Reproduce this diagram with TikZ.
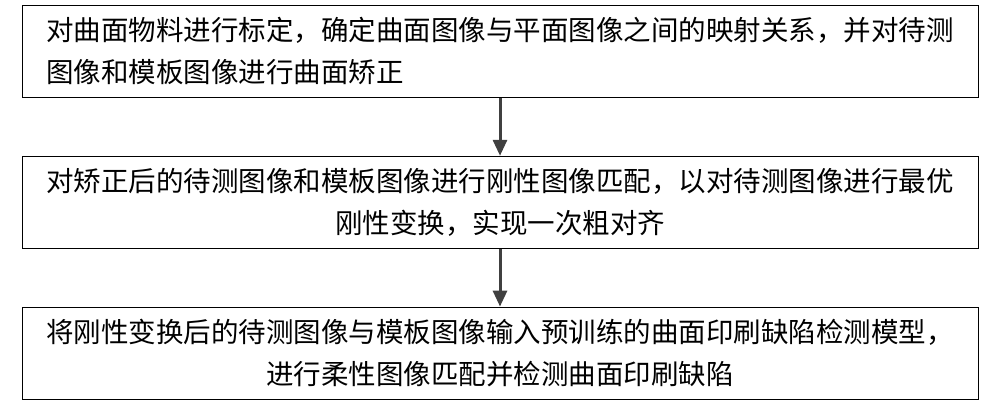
\documentclass[tikz,border=0pt]{standalone}
\usepackage{fontspec}
\newfontfamily\cjk{Noto Sans CJK SC}
\usetikzlibrary{arrows.meta,positioning}
\begin{document}
\begin{tikzpicture}[
		x=1pt, y=1pt,
		node distance = 58pt,
		every node/.style = {font=\cjk\fontsize{27.5}{42}\selectfont},
		stepbox/.style = {draw, line width=0.8pt, minimum width=956pt, minimum height=92pt, inner sep=0pt},
		flow/.style = {-{Triangle[length=16pt,width=14pt]}, line width=3pt, draw=black!75}
		]
		\useasboundingbox (0,0) rectangle (1000,-405);
		
		% Boxes ---------------------------------------------------------
		\node[stepbox, align=left, anchor=north] (calib) at (500,-5)
		{对曲面物料进行标定，确定曲面图像与平面图像之间的映射关系，并对待测\\图像和模板图像进行曲面矫正};
		\node[stepbox, align=center, below=of calib] (rigid)
		{对矫正后的待测图像和模板图像进行刚性图像匹配，以对待测图像进行最优\\刚性变换，实现一次粗对齐};
		\node[stepbox, align=center, below=of rigid] (detect)
		{将刚性变换后的待测图像与模板图像输入预训练的曲面印刷缺陷检测模型，\\进行柔性图像匹配并检测曲面印刷缺陷};
		
		% Arrows --------------------------------------------------------
		\draw[flow] (calib) -- (rigid);
		\draw[flow] (rigid) -- (detect);
	\end{tikzpicture}
\end{document}
